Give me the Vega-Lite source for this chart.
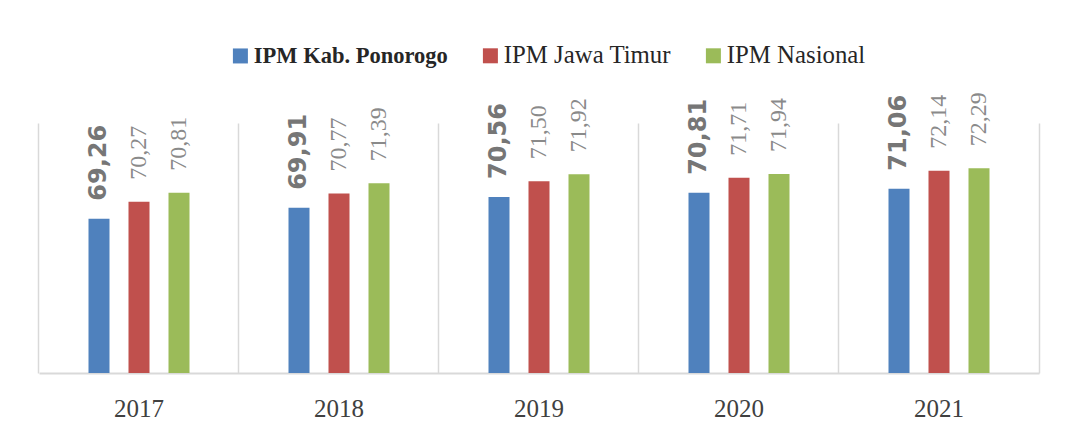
{
  "$schema": "https://vega.github.io/schema/vega-lite/v6.json",
  "width": 1000,
  "height": 250,
  "autosize": {"type": "none"},
  "padding": {"left": 39, "top": 123, "right": 41, "bottom": 65},
  "background": "white",
  "config": {
    "view": {"stroke": null},
    "locale": {"number": {"decimal": ",", "thousands": ".", "grouping": [3], "currency": ["", ""]}}
  },
  "data": {
    "values": [
      {"year": "2017", "series": "IPM Kab. Ponorogo", "value": 69.26},
      {"year": "2017", "series": "IPM Jawa Timur", "value": 70.27},
      {"year": "2017", "series": "IPM Nasional", "value": 70.81},
      {"year": "2018", "series": "IPM Kab. Ponorogo", "value": 69.91},
      {"year": "2018", "series": "IPM Jawa Timur", "value": 70.77},
      {"year": "2018", "series": "IPM Nasional", "value": 71.39},
      {"year": "2019", "series": "IPM Kab. Ponorogo", "value": 70.56},
      {"year": "2019", "series": "IPM Jawa Timur", "value": 71.50},
      {"year": "2019", "series": "IPM Nasional", "value": 71.92},
      {"year": "2020", "series": "IPM Kab. Ponorogo", "value": 70.81},
      {"year": "2020", "series": "IPM Jawa Timur", "value": 71.71},
      {"year": "2020", "series": "IPM Nasional", "value": 71.94},
      {"year": "2021", "series": "IPM Kab. Ponorogo", "value": 71.06},
      {"year": "2021", "series": "IPM Jawa Timur", "value": 72.14},
      {"year": "2021", "series": "IPM Nasional", "value": 72.29}
    ]
  },
  "encoding": {
    "x": {
      "field": "year",
      "type": "nominal",
      "scale": {"paddingInner": 0.095, "paddingOuter": 0.0475},
      "axis": {
        "title": null,
        "labelAngle": 0,
        "labelFont": "Liberation Serif",
        "labelFontSize": 25,
        "labelColor": "#404040",
        "labelPadding": 23,
        "ticks": false,
        "domainColor": "#d9d9d9",
        "domainWidth": 2,
        "grid": true,
        "gridColor": "#d9d9d9",
        "gridWidth": 1.5,
        "bandPosition": -0.0525
      }
    },
    "xOffset": {
      "field": "series",
      "type": "nominal",
      "scale": {
        "domain": ["IPM Kab. Ponorogo", "IPM Jawa Timur", "IPM Nasional"],
        "paddingInner": 0.475,
        "paddingOuter": 1
      }
    },
    "y": {
      "field": "value",
      "type": "quantitative",
      "scale": {"domain": [60, 75], "nice": false, "zero": false},
      "axis": {
        "orient": "right",
        "title": null,
        "labels": false,
        "ticks": false,
        "grid": false,
        "domainColor": "#d9d9d9",
        "domainWidth": 1.5
      }
    }
  },
  "layer": [
    {
      "mark": {"type": "bar"},
      "encoding": {
        "y2": {"datum": 60},
        "color": {
          "field": "series",
          "type": "nominal",
          "scale": {
            "domain": ["IPM Kab. Ponorogo", "IPM Jawa Timur", "IPM Nasional"],
            "range": ["#4f81bd", "#c0504d", "#9bbb59"]
          },
          "legend": {
            "title": null,
            "orient": "none",
            "legendX": 189,
            "legendY": -80,
            "direction": "horizontal",
            "symbolType": "square",
            "symbolSize": 225,
            "symbolStrokeWidth": 0,
            "labelFont": "Liberation Serif",
            "labelFontSize": 24,
            "labelColor": "#262626",
            "labelOffset": 1,
            "labelLimit": 400,
            "columnPadding": 30,
            "padding": 0,
            "encode": {
              "labels": {
                "update": {
                  "fontWeight": {"signal": "datum.value === 'IPM Kab. Ponorogo' ? 'bold' : 'normal'"},
                  "fontSize": {"signal": "datum.value === 'IPM Kab. Ponorogo' ? 22.5 : 24.8"}
                }
              }
            }
          }
        }
      }
    },
    {
      "transform": [{"filter": "datum.series === 'IPM Kab. Ponorogo'"}],
      "mark": {
        "type": "text",
        "angle": -90,
        "align": "left",
        "baseline": "middle",
        "dx": 18,
        "font": "DejaVu Sans",
        "fontWeight": "bold",
        "fontSize": 24,
        "color": "#767676"
      },
      "encoding": {"text": {"field": "value", "type": "quantitative", "format": ".2f"}}
    },
    {
      "transform": [{"filter": "datum.series !== 'IPM Kab. Ponorogo'"}],
      "mark": {
        "type": "text",
        "angle": -90,
        "align": "left",
        "baseline": "middle",
        "dx": 22,
        "font": "Liberation Serif",
        "fontSize": 24,
        "color": "#8a8a8a"
      },
      "encoding": {"text": {"field": "value", "type": "quantitative", "format": ".2f"}}
    }
  ]
}
